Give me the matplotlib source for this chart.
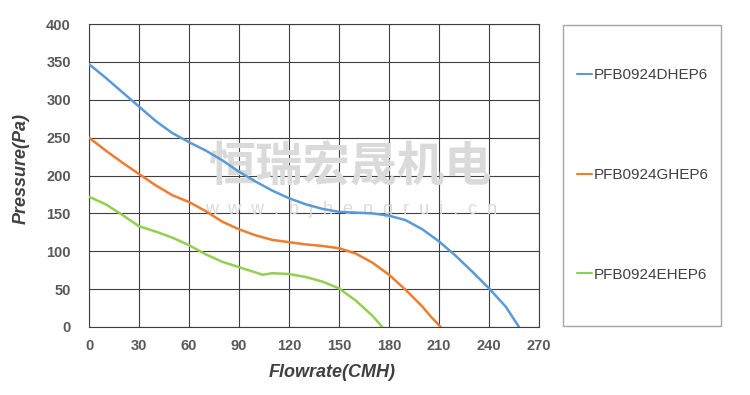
import matplotlib.pyplot as plt
from matplotlib.patches import Rectangle

plt.rcParams['font.family'] = ['Liberation Sans', 'DejaVu Sans']

# P-Q curves
flow_d = [0, 10, 20, 30, 40, 50, 60, 70, 80, 90, 100, 110, 120, 130, 140, 150, 160, 170, 180, 190, 200, 210, 220, 230, 240, 250, 258]
pres_d = [347, 329, 310, 291, 272, 256, 244, 233, 220, 205, 192, 180, 170, 162, 156, 152, 151, 150, 147, 141, 129, 113, 94, 73, 51, 27, 0]

flow_g = [0, 10, 20, 30, 40, 50, 60, 70, 80, 90, 100, 110, 120, 130, 140, 150, 160, 170, 180, 190, 200, 205, 211]
pres_g = [250, 233, 217, 202, 187, 174, 165, 153, 139, 129, 121, 115, 112, 109, 107, 104, 97, 85, 69, 49, 27, 14, 0]

flow_e = [0, 10, 20, 30, 40, 50, 60, 70, 80, 90, 100, 104, 110, 120, 130, 140, 150, 160, 170, 176]
pres_e = [172, 162, 148, 133, 126, 118, 108, 96, 86, 79, 72, 69, 71, 70, 66, 60, 51, 35, 15, 0]

labels = ['PFB0924DHEP6', 'PFB0924GHEP6', 'PFB0924EHEP6']
colors = ['#5b9bd5', '#ed7d31', '#92d050']

fig = plt.figure(figsize=(7.5, 3.95), dpi=100)
ax = fig.add_axes([89 / 750, 68 / 395, 450 / 750, 303 / 395])

lines = []
for fx, py, c, lab in zip([flow_d, flow_g, flow_e], [pres_d, pres_g, pres_e], colors, labels):
    ln, = ax.plot(fx, py, color=c, lw=1.8, label=lab, zorder=4, solid_capstyle='round')
    lines.append(ln)

ax.set_xlim(0, 270)
ax.set_ylim(0, 400)
ax.set_xticks(range(0, 271, 30))
ax.set_yticks(range(0, 401, 50))
ax.grid(True, color='#3f3f3f', lw=0.8, zorder=1)
ax.set_axisbelow(True)
for s in ax.spines.values():
    s.set_color('#3f3f3f')
    s.set_linewidth(0.8)
ax.tick_params(length=0, labelsize=10.5, labelcolor='#595959')
ax.tick_params(axis='y', pad=13)
ax.tick_params(axis='x', pad=9)
for t in ax.get_xticklabels() + ax.get_yticklabels():
    t.set_fontweight('bold')

ax.set_xlabel('Flowrate(CMH)', fontsize=13, fontweight='bold', fontstyle='italic', color='#404040')
ax.set_ylabel('Pressure(Pa)', fontsize=13, fontweight='bold', fontstyle='italic', color='#404040')
ax.xaxis.set_label_coords((332 - 89) / 450, -(364 - 327) / 303)
ax.yaxis.set_label_coords(-(89 - 30) / 450, (327 - 168) / 303)

# watermark, under the curves
ax.text(350 / 750, 1 - 167 / 395, '恒瑞宏晟机电', fontsize=34, fontweight='bold',
        family=['Noto Sans CJK SC', 'DejaVu Sans'], color='#dadada', ha='center', va='center',
        zorder=3, transform=fig.transFigure)
ax.text(351 / 750, 1 - 210 / 395, 'w  w  w  .  b  j  h  e  n  g  r  u  i  .  c  n', fontsize=13,
        color='#dadada', ha='center', va='center', zorder=3, transform=fig.transFigure)

# legend box
fig.patches.append(Rectangle((563 / 750, 69 / 395), 158 / 750, 301 / 395, transform=fig.transFigure,
                             fill=False, edgecolor='#a6a6a6', lw=1))
leg = fig.legend(handles=lines, loc='center', bbox_to_anchor=(643 / 750, 1 - 175 / 395), frameon=False,
                 fontsize=11, handlelength=1.0, handletextpad=0.1, labelspacing=5.6, labelcolor='#404040')
for h in leg.legend_handles:
    h.set_linewidth(1.5)

fig.savefig('out.png', dpi=100)
